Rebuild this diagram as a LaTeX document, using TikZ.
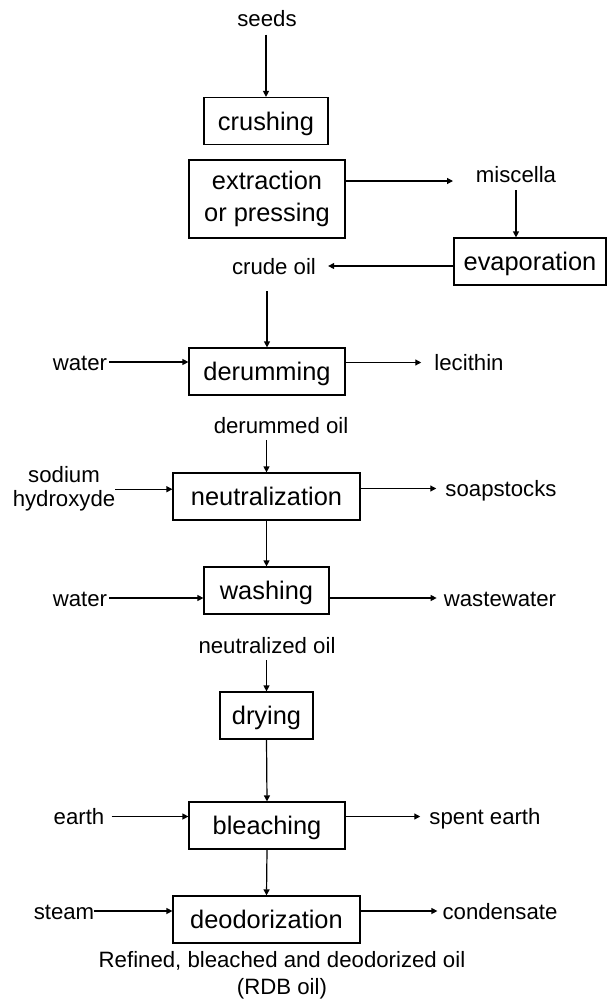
\documentclass[tikz,border=0pt]{standalone}
\usepackage{fontspec}
\setmainfont{Liberation Sans}
\usetikzlibrary{arrows.meta}
\begin{document}
\begin{tikzpicture}[x=1pt,y=-1pt,
  every node/.style={font=\fontsize{22.2}{27}\selectfont},
  proc/.style={draw, line width=1.2pt, inner sep=0pt,
    font=\fontsize{25.4}{32}\selectfont, text height=18.3pt, text depth=0pt,
    minimum height=47pt},
  proc2/.style={draw, line width=1.2pt, inner sep=0pt, align=center,
    font=\fontsize{25.4}{32}\selectfont},
  lbl/.style={inner sep=0pt, text height=16pt, text depth=0pt},
  flow/.style={line width=1.2pt, -{Triangle[length=6pt,width=6pt]}}
]
\useasboundingbox (0,0) rectangle (608,1001);

% process steps
\node[proc, minimum width=124pt] (crush) at (266,121) {crushing};
\node[proc2, minimum width=156pt, minimum height=78pt] (extr) at (267,199) {extraction\\or pressing};
\node[proc, minimum width=152pt] (evap) at (530,261.5) {evaporation};
\node[proc, minimum width=156pt] (derum) at (267,371.5) {derumming};
\node[proc, minimum width=187pt] (neut) at (266.5,496.5) {neutralization};
\node[proc, minimum width=125pt] (wash) at (266.5,590.5) {washing};
\node[proc, minimum width=93pt] (dry) at (266.5,715.5) {drying};
\node[proc, minimum width=156pt] (bleach) at (267,825.5) {bleaching};
\node[proc, minimum width=187pt] (deod) at (266.5,919.5) {deodorization};

% streams in and out
\node[lbl] (seeds) at (267,18.5) {seeds};
\node[lbl] (miscella) at (516,174) {miscella};
\node[lbl] (crude) at (274,266) {crude oil};
\node[lbl] (water1) at (80,362) {water};
\node[lbl] (lecithin) at (469,362.5) {lecithin};
\node[lbl] (derumoil) at (281,425) {derummed oil};
\node[inner sep=0pt, align=center, font=\fontsize{22.2}{24}\selectfont] (naoh) at (64,489.2) {sodium\\hydroxyde};
\node[lbl] (soap) at (501,488.5) {soapstocks};
\node[lbl] (water2) at (80,598) {water};
\node[lbl] (waste) at (500,598) {wastewater};
\node[lbl] (neutoil) at (267,645) {neutralized oil};
\node[lbl] (earth) at (79,816.5) {earth};
\node[lbl] (spent) at (485,816.5) {spent earth};
\node[lbl] (steam) at (64,911) {steam};
\node[lbl] (cond) at (500,911) {condensate};
\node[inner sep=0pt, align=center, font=\fontsize{22.2}{27}\selectfont] (rdb) at (282,975.7)
  {Refined, bleached and deodorized oil\\(RDB oil)};

\coordinate (mtip) at (453,181);

% connectors
\draw[flow, shorten <=8pt] (seeds.south -| crush.north) -- (crush.north);
\draw[flow] ([yshift=18pt]extr.east) -- (mtip);
\draw[flow, shorten <=8pt] (miscella.south) -- (miscella.south |- evap.north);
\draw[flow] (evap.west |- crude) -- ([xshift=12pt]crude.east);
\draw[flow, shorten <=17pt] (derum.north |- crude.south) -- (derum.north);
\draw[flow, shorten <=2pt] (water1.east) -- (water1.east -| derum.west);
\draw[flow] (derum.east |- lecithin) -- ([xshift=-13pt]lecithin.west);
\draw[flow, shorten <=7pt] (derumoil.south -| neut.north) -- (neut.north);
\draw[flow] (naoh.east) -- (naoh.east -| neut.west);
\draw[flow] (neut.east |- soap) -- ([xshift=-9pt]soap.west);
\draw[flow] (neut.south) -- (wash.north);
\draw[flow, shorten <=2pt] (water2.east) -- (water2.east -| wash.west);
\draw[flow] (wash.east |- waste) -- ([xshift=-7pt]waste.west);
\draw[flow, shorten <=7pt] (neutoil.south -| dry.north) -- (dry.north);
\draw[flow] (dry.south) -- (bleach.north);
\draw[flow, shorten <=7pt] (earth.east) -- (earth.east -| bleach.west);
\draw[flow] (bleach.east |- spent) -- ([xshift=-9pt]spent.west);
\draw[flow] (bleach.south) -- (deod.north);
\draw[flow] (steam.east) -- (steam.east -| deod.west);
\draw[flow] (deod.east |- cond) -- ([xshift=-5pt]cond.west);
\end{tikzpicture}
\end{document}
